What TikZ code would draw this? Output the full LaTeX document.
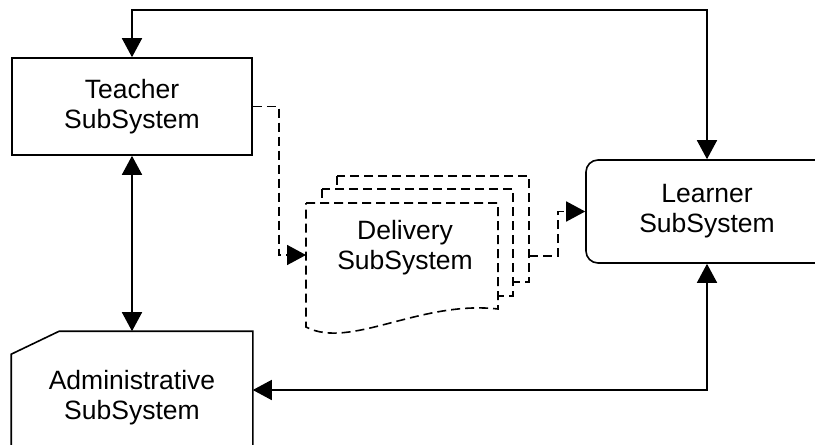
\documentclass[tikz,border=0pt]{standalone}
\usepackage{fontspec}
\setmainfont{Liberation Sans}
\usetikzlibrary{arrows.meta}
\tikzset{txt/.style={align=center,font=\fontsize{26.5}{30}\selectfont},
box/.style={txt,rectangle,draw,minimum width=240pt},
rbox/.style={box,rounded corners=12pt},
dsh/.style={dash pattern=on 9pt off 5pt},
pg/.style={dsh,fill=white}}

\begin{document}
\begin{tikzpicture}[x=1pt,y=-1pt,>={Triangle[length=19pt,width=20pt]},line width=1.6pt]
    \clip (0,0) rectangle (815,445);
    \node[box,minimum height=97pt] (t) at (132,106.5) {Teacher\\SubSystem};
    \node[rbox,minimum width=242pt,minimum height=103pt] (l) at (707,211.5) {Learner\\SubSystem};
    \node[box,draw=none,minimum height=132pt] (a) at (132,398) {Administrative\\SubSystem};
    \draw ([xshift=48pt]a.north west) -- (a.north east) -- (a.south east) -- (a.south west) -- ([yshift=-23pt]a.north west) -- cycle;

    % delivery pages
    \draw[pg] (337,176) rectangle (529,282);
    \draw[pg] (322,189) rectangle (513,296);
    \draw[pg] (306,203) -- (498,203) -- (498,309) .. controls (420,300) and (350,350) .. (306,327) -- cycle;
    \node[txt] (d) at (405,248) {Delivery\\SubSystem};
    \coordinate (d1) at (306,255);
    \coordinate (d2) at (529,256);

    \draw[<->] (t.north) -- ++(0,-47) -| (l.north);
    \draw[<->] (t.south) -- (a.north);
    \draw[<->] (l.south) |- ([yshift=8pt]a.east);
    \draw[->,dsh] (t.east) -- ++(26,0) |- (d1);
    \draw[->,dsh] (d2) -- ++(29,0) |- (l.west);
\end{tikzpicture}
\end{document}
